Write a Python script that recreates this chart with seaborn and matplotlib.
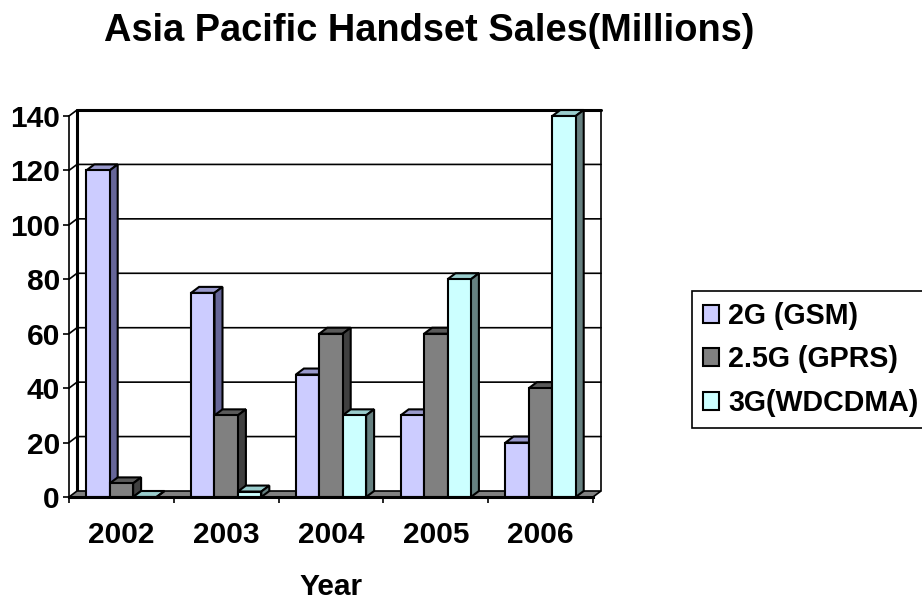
import pandas as pd
import matplotlib.pyplot as plt
from matplotlib.patches import Polygon
import seaborn as sns

years = ["2002", "2003", "2004", "2005", "2006"]
series = ["2G (GSM)", "2.5G (GPRS)", "3G(WDCDMA)"]
gsm = [120, 75, 45, 30, 20]
gprs = [5, 30, 60, 60, 40]
wcdma = [0, 2, 30, 80, 140]
y_ticks = [0, 20, 40, 60, 80, 100, 120, 140]

palette = ["#CCCCFF", "#808080", "#CCFFFF"]
tops = ["#9999CC", "#5A5A5A", "#99CCCC"]
sides = ["#666699", "#404040", "#668080"]

df = pd.DataFrame({"Year": years, series[0]: gsm, series[1]: gprs, series[2]: wcdma})
df = df.melt(id_vars="Year", var_name="Series", value_name="Sales")

sns.set_theme(style="white")
plt.rcParams["font.family"] = ["Liberation Sans", "DejaVu Sans"]

W, H = 922, 602
fig = plt.figure(figsize=(W / 100, H / 100), dpi=100, facecolor="white")
# axes = front plane of the fake 3D box
left, right, top, bottom = 69, 593, 116, 497
ax = fig.add_axes([left / W, 1 - bottom / H, (right - left) / W, (bottom - top) / H])
ax.patch.set_alpha(0)

sns.barplot(data=df, x="Year", y="Sales", hue="Series", order=years, hue_order=series,
            palette=palette, width=0.67, gap=0, saturation=1, edgecolor="black",
            linewidth=1.5, ax=ax)
ax.set_xlim(-0.5, 4.5)
ax.set_ylim(y_ticks[0], y_ticks[-1])

# depth of the box, in data units
dx = 8 / ((right - left) / len(years))
dy = 6 / ((bottom - top) / y_ticks[-1])
x0, x1 = ax.get_xlim()

# back wall grid and frame
for v in y_ticks[1:-1]:
    ax.plot([x0, x0 + dx, x1 + dx], [v, v + dy, v + dy], color="black", lw=1.2, clip_on=False, zorder=1)
ax.plot([x0 + dx, x0 + dx], [dy, y_ticks[-1] + dy], color="black", lw=2.2, clip_on=False, zorder=1)
ax.plot([x0 + dx, x1 + dx], [y_ticks[-1] + dy] * 2, color="black", lw=2.2, clip_on=False, zorder=1)
ax.plot([x1 + dx, x1 + dx], [dy, y_ticks[-1] + dy], color="black", lw=1.2, clip_on=False, zorder=1)
ax.plot([x0, x0 + dx], [y_ticks[-1], y_ticks[-1] + dy], color="black", lw=1.2, clip_on=False, zorder=1)

# floor
ax.add_patch(Polygon([(x0, 0), (x0 + dx, dy), (x1 + dx, dy), (x1, 0)], closed=True,
                     facecolor="#808080", edgecolor="black", lw=1.2, clip_on=False, zorder=1.5))

# bar depth, left to right so the next bar hides the side of the previous one
z = 3
bars = []
for i, cont in enumerate(ax.containers):
    for bar in cont:
        bars.append((bar.get_x(), i, bar))
for bx, i, bar in sorted(bars, key=lambda b: b[0]):
    w, h = bar.get_width(), bar.get_height()
    ax.add_patch(Polygon([(bx, h), (bx + dx, h + dy), (bx + w + dx, h + dy), (bx + w, h)], closed=True,
                         facecolor=tops[i], edgecolor="black", lw=1.5, clip_on=False, zorder=z))
    ax.add_patch(Polygon([(bx + w, 0), (bx + w + dx, dy), (bx + w + dx, h + dy), (bx + w, h)], closed=True,
                         facecolor=sides[i], edgecolor="black", lw=1.5, clip_on=False, zorder=z))
    bar.set_zorder(z + 0.5)
    bar.set_clip_on(False)
    z += 1

# axes
sns.despine(ax=ax, top=True, right=True)
ax.spines["left"].set_linewidth(1.2)
ax.spines["left"].set_color("black")
ax.spines["bottom"].set_linewidth(2.2)
ax.spines["bottom"].set_color("black")
ax.spines["bottom"].set_zorder(z + 1)
ax.set_yticks(y_ticks)
ax.set_yticklabels(y_ticks, fontsize=21.5, fontweight="bold", color="black")
ax.set_xticks(range(len(years)))
ax.set_xticklabels(years, fontsize=21.5, fontweight="bold", color="black")
ax.set_xticks([x0 + k for k in range(len(years) + 1)], minor=True)
ax.tick_params(axis="y", which="major", left=True, length=4.5, width=1.2, color="black", pad=2)
ax.tick_params(axis="x", which="major", bottom=False, pad=11)
ax.tick_params(axis="x", which="minor", bottom=True, length=4.5, width=1.2, color="black")
ax.set_xlabel("")
ax.set_ylabel("")

fig.text(331 / W, 1 - 587 / H, "Year", ha="center", va="center", fontsize=21.5, fontweight="bold", color="black")
fig.text(429 / W, 1 - 31 / H, "Asia Pacific Handset Sales(Millions)", ha="center", va="center",
         fontsize=27.4, fontweight="bold", color="black")

handles, labels = ax.get_legend_handles_labels()
leg = ax.legend(handles, labels, loc="upper left", bbox_to_anchor=(692 / W, 1 - 291 / H),
                bbox_transform=fig.transFigure, prop={"size": 20.6, "weight": "bold"}, frameon=True,
                fancybox=False, edgecolor="black", facecolor="white", framealpha=1, borderaxespad=0,
                handlelength=0.58, handleheight=0.58, handletextpad=0.31, labelspacing=0.54,
                borderpad=0.38, labelcolor="black")
leg.get_frame().set_linewidth(1.2)
leg.set_zorder(z + 2)

plt.savefig("out.png", dpi=100, facecolor="white")
